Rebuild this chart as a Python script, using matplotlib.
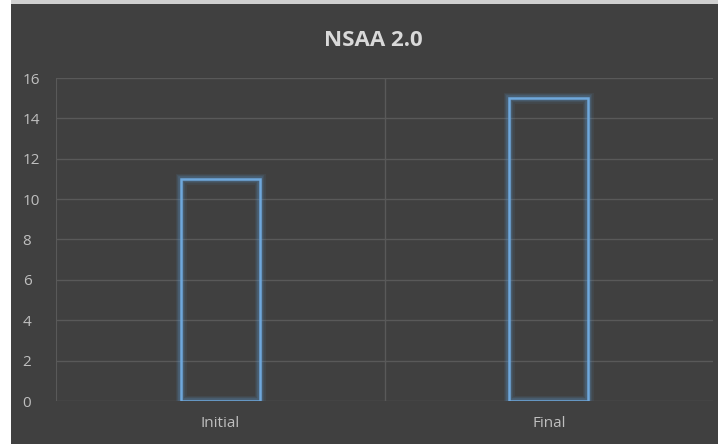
import matplotlib.pyplot as plt
from matplotlib.patches import Rectangle

categories = ["Initial", "Final"]
values = [11, 15]
yticks = [0, 2, 4, 6, 8, 10, 12, 14, 16]

bg = "#404040"
grid = "#595959"
txt = "#bfbfbf"
blue = "#5b9bd5"

plt.rcParams['font.family'] = ['Open Sans', 'DejaVu Sans']

fig = plt.figure(figsize=(7.18, 4.44), dpi=100, facecolor=bg)
# white margin on the left and a light band on top, as in the screenshot
fig.patches.append(Rectangle((0, 1 - 4 / 444), 1, 4 / 444, transform=fig.transFigure,
                             facecolor="#d0d0d0", edgecolor="none", zorder=-1))
fig.patches.append(Rectangle((0, 0), 11 / 718, 1, transform=fig.transFigure,
                             facecolor="white", edgecolor="none", zorder=-1))

ax = fig.add_axes([56 / 718, 43 / 444, (713 - 56) / 718, (401 - 78) / 444])
ax.set_facecolor(bg)

x = range(len(categories))
# soft glow around the bar outlines
for lw, a in [(8, 0.08), (6, 0.12), (4, 0.2)]:
    ax.bar(x, values, width=0.24, facecolor="none", edgecolor=blue, linewidth=lw, alpha=a, zorder=3)
ax.bar(x, values, width=0.24, facecolor="none", edgecolor="#6fa8dc", linewidth=1.8, zorder=4)

ax.set_xlim(-0.5, 1.5)
ax.set_ylim(0, 16)
ax.set_yticks(yticks)
ax.set_xticks(list(x))
ax.set_xticklabels(categories)
ax.yaxis.grid(True, color=grid, linewidth=1)
ax.axvline(0.5, color=grid, linewidth=1)
ax.axvline(-0.5, color=grid, linewidth=1.5)
ax.set_axisbelow(True)
for s in ax.spines.values():
    s.set_visible(False)
ax.tick_params(length=0, colors=txt, labelsize=11)
ax.tick_params(axis="y", pad=24)
ax.tick_params(axis="x", pad=11)
for lab in ax.get_yticklabels():
    lab.set_horizontalalignment("left")

fig.text(373 / 718, 1 - 40 / 444, "NSAA 2.0", ha="center", va="center",
         fontsize=16, fontweight="bold", color="#d9d9d9")

fig.savefig("out.png", dpi=100, facecolor=fig.get_facecolor())
